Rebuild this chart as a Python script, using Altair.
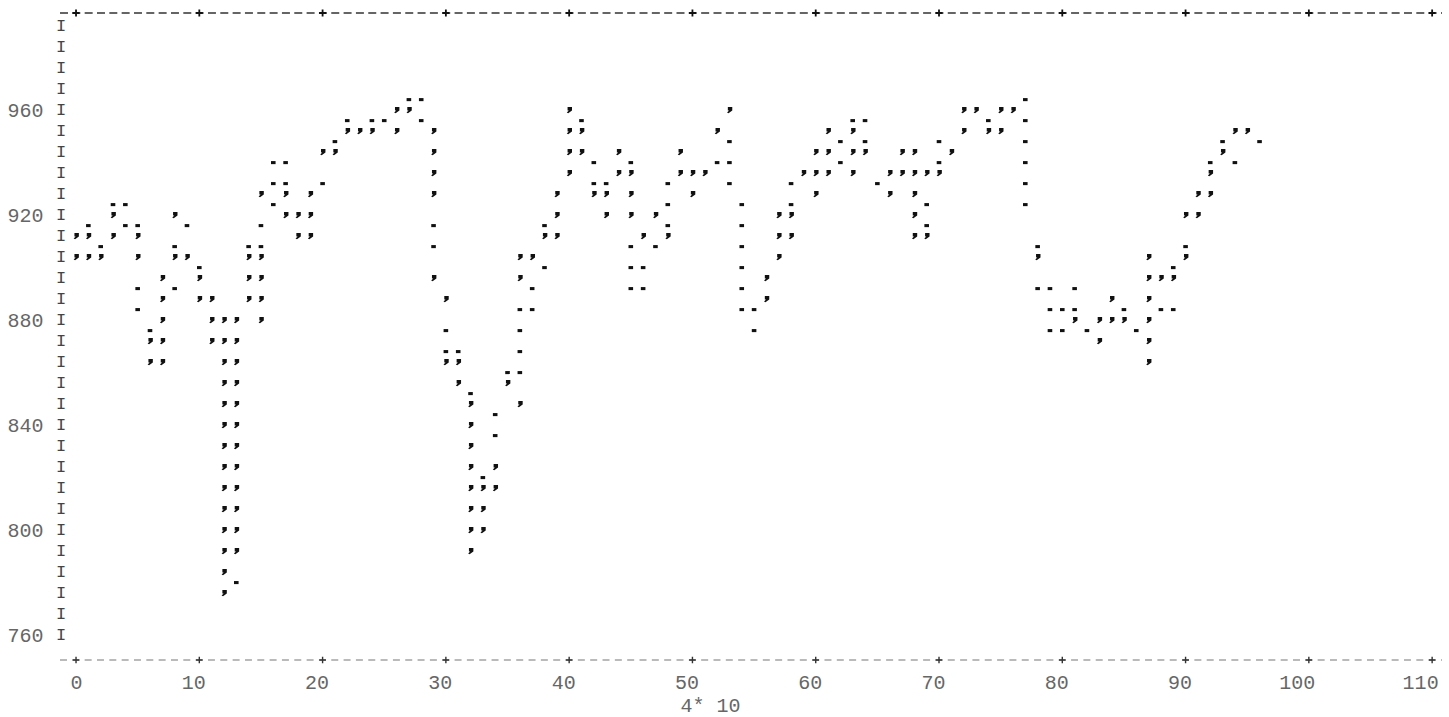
import altair as alt
import pandas as pd

# ---- data: column (x) and plotted value (y) ----
col_values = {
    0: [912, 904], 1: [916, 912, 904], 2: [908, 904], 3: [924, 920, 912], 4: [924, 916],
    5: [916, 912, 904, 892, 884], 6: [876, 872, 864], 7: [896, 888, 880, 872, 864],
    8: [920, 908, 904, 892], 9: [916, 904], 10: [900, 896, 888], 11: [888, 880, 872],
    12: [880, 872, 864, 856, 848, 840, 832, 824, 816, 808, 800, 792, 784, 776],
    13: [880, 872, 864, 856, 848, 840, 832, 824, 816, 808, 800, 792, 780],
    14: [908, 904, 896, 888], 15: [928, 916, 908, 904, 896, 888, 880],
    16: [940, 932, 924], 17: [940, 932, 928, 920], 18: [920, 912], 19: [928, 920, 912],
    20: [944, 932], 21: [948, 944], 22: [956, 952], 23: [952], 24: [956, 952], 25: [956],
    26: [960, 952], 27: [964, 960], 28: [964, 956],
    29: [952, 944, 936, 928, 916, 908, 896], 30: [888, 876, 868, 864], 31: [868, 864, 856],
    32: [852, 848, 840, 832, 824, 816, 808, 800, 792], 33: [820, 816, 808, 800],
    34: [844, 836, 824, 816], 35: [860, 856], 36: [904, 896, 884, 876, 868, 860, 848],
    37: [904, 892, 884], 38: [916, 912, 900], 39: [928, 920, 912], 40: [960, 952, 944, 936],
    41: [956, 952, 944], 42: [940, 932, 928], 43: [932, 928, 920], 44: [944, 936],
    45: [940, 936, 928, 920, 908, 900, 892], 46: [912, 900, 892], 47: [920, 908],
    48: [932, 924, 916, 912], 49: [944, 936], 50: [936, 928], 51: [936], 52: [952, 940],
    53: [960, 948, 940, 932], 54: [924, 916, 908, 900, 892, 884], 55: [884, 876],
    56: [896, 888], 57: [920, 912, 904], 58: [932, 924, 920, 912], 59: [936],
    60: [944, 936, 928], 61: [952, 944, 936], 62: [948, 940], 63: [956, 952, 944, 936],
    64: [956, 948, 944], 65: [932], 66: [936, 928], 67: [944, 936],
    68: [944, 936, 928, 920, 912], 69: [936, 924, 916, 912], 70: [948, 940, 936], 71: [944],
    72: [960, 952], 73: [960], 74: [956, 952], 75: [960, 952], 76: [960],
    77: [964, 956, 948, 940, 932, 924], 78: [908, 904, 892], 79: [892, 884, 876],
    80: [884, 876], 81: [892, 884, 880], 82: [876], 83: [880, 872], 84: [888, 880],
    85: [884, 880], 86: [876], 87: [904, 896, 888, 880, 872, 864], 88: [896, 884],
    89: [900, 896, 884], 90: [920, 908, 904], 91: [928, 920], 92: [940, 936, 928],
    93: [948, 944], 94: [952, 940], 95: [952], 96: [948],
}
point_x = [c for c, vs in col_values.items() for _ in vs]
point_y = [v for vs in col_values.values() for v in vs]

y_label_values = [760, 800, 840, 880, 920, 960]
x_tick_values = [0, 10, 20, 30, 40, 50, 60, 70, 80, 90, 100, 110]
border_rows = list(range(760, 1000, 8))
x_title = "4* 10"

W, H = 1382, 647
MONO = "Liberation Mono"
xs = alt.Scale(domain=[-1.3, 110.8], nice=False, zero=False)
ys = alt.Scale(domain=[750.5, 997], nice=False, zero=False)

APOS = "M-0.5,-1H0.9V0.1L-0.3,1L-0.75,0.75L-0.1,0.1H-0.5Z"
DOT = "M-0.9,-0.6H0.9V0.6H-0.9Z"
CROSS = "M-1,0H1M0,-1V1"

x_axis = alt.Axis(values=x_tick_values, labelAlign="right", labelOffset=6, labelPadding=22,
                  labelBaseline="middle", ticks=False, tickSize=0, domain=False, grid=False,
                  labelFont=MONO, labelFontSize=20, labelColor="#666", labelFlush=False,
                  labelOverlap=False, format="d", title=x_title, titleFont=MONO,
                  titleFontSize=20, titleFontWeight="normal", titleColor="#666",
                  titleX=650, titleY=45, titleBaseline="middle", titleAlign="center")
y_axis = alt.Axis(values=y_label_values, labelPadding=17, ticks=False, tickSize=0, domain=False,
                  grid=False, labelFont=MONO, labelFontSize=20, labelColor="#666",
                  labelBaseline="middle", format="d", title=None)

X = lambda f: alt.X(f, scale=xs, axis=x_axis)
Y = lambda f: alt.Y(f, scale=ys, axis=y_axis)

pts = pd.DataFrame({"x": point_x, "y": point_y})
base = alt.Chart(pts).transform_calculate(sym="datum.y % 8 == 0 ? 'a' : 'd'")

apos = base.transform_filter("datum.sym == 'a'").mark_point(
    shape=APOS, filled=True, color="#111", size=40, opacity=1
).encode(x=X("x:Q"), y=Y("y:Q"))

dots = base.transform_filter("datum.sym == 'd'").mark_point(
    shape=DOT, filled=True, color="#111", size=26, opacity=1
).encode(x=X("x:Q"), y=Y("y:Q"))

rows_df = pd.DataFrame({"row": border_rows})
left_border = alt.Chart(rows_df).mark_text(
    text="I", font=MONO, fontSize=17, color="#444", align="center", baseline="middle"
).encode(x=alt.value(1), y=Y("row:Q"))

one = pd.DataFrame({"k": [0]})
top_rule = alt.Chart(one).mark_rule(color="#333", strokeWidth=1.4, strokeDash=[8, 4.33]).encode(
    x=alt.value(0), x2=alt.value(W), y=alt.value(0))
bottom_rule = alt.Chart(one).mark_rule(color="#777", strokeWidth=1.1, strokeDash=[7, 5.33]).encode(
    x=alt.value(0), x2=alt.value(W), y=alt.value(H))

ticks_df = pd.DataFrame({"t": x_tick_values})
top_plus = alt.Chart(ticks_df).mark_point(shape=CROSS, filled=False, color="#111", strokeWidth=1.8,
                                          size=50, opacity=1).encode(
    x=X("t:Q"), y=alt.value(0))
bottom_plus = alt.Chart(ticks_df).mark_point(shape=CROSS, filled=False, color="#333", strokeWidth=1.4,
                                             size=45, opacity=1).encode(
    x=X("t:Q"), y=alt.value(H))

chart = alt.layer(apos, dots, left_border, top_rule, bottom_rule, top_plus, bottom_plus).properties(
    width=W, height=H, autosize="none",
    padding={"left": 60, "top": 13, "right": 7, "bottom": 57},
    background="white",
).configure_view(stroke=None)

chart.save("out.html", embed_options={"renderer": "svg", "actions": False})
